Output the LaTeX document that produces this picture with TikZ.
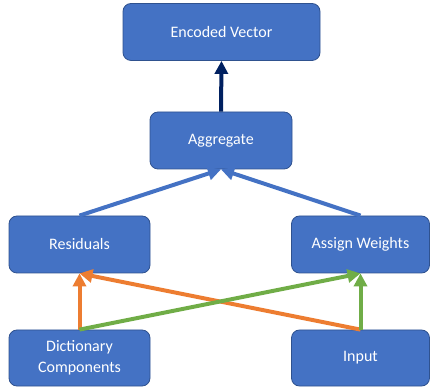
\documentclass[tikz,border=0pt]{standalone}
\usepackage{fontspec}
\setmainfont{Carlito}
\usetikzlibrary{arrows.meta}
\definecolor{boxblue}{HTML}{4472C4}
\definecolor{boxedge}{HTML}{2F528F}
\definecolor{navy}{HTML}{002060}
\definecolor{orangeline}{HTML}{ED7D31}
\definecolor{greenline}{HTML}{70AD47}
\tikzset{
	block/.style={draw=boxedge, line width=0.8pt, fill=boxblue, rounded corners=8pt,
		text=white, font=\fontsize{16}{21}\selectfont, align=center, inner sep=0pt},
	link/.style={line width=4pt, -{Triangle[length=13pt, width=13pt]}, shorten >=0pt}
}
\begin{document}
\begin{tikzpicture}[x=1pt, y=1pt]
	\useasboundingbox (0,0) rectangle (430,390);

	% Boxes
	\node[block, minimum width=197pt, minimum height=57pt] (encoded) at (221.5,358) {Encoded Vector};
	\node[block, minimum width=142pt, minimum height=57pt] (aggregate) at (221,249.5) {Aggregate};
	\node[block, minimum width=141pt, minimum height=57pt] (residuals) at (79.5,145.5) {Residuals};
	\node[block, minimum width=138pt, minimum height=57pt] (weights) at (360.5,145.5) {Assign Weights};
	\node[block, minimum width=141pt, minimum height=56pt] (dict) at (79.5,32) {Dictionary\\Components};
	\node[block, minimum width=138pt, minimum height=56pt] (input) at (360.5,32) {Input};

	% Output arrow
	\draw[link, navy] (aggregate.north) -- (encoded.south);

	% Into aggregate
	\draw[link, boxblue] (residuals.north) -- (aggregate.south);
	\draw[link, boxblue] (weights.north) -- (aggregate.south);

	% Into residuals
	\draw[link, orangeline] (dict.north) -- (residuals.south);
	\draw[link, orangeline] (input.north) -- (residuals.south);

	% Into weights
	\draw[link, greenline] (dict.north) -- (weights.south);
	\draw[link, greenline] (input.north) -- (weights.south);
\end{tikzpicture}
\end{document}
